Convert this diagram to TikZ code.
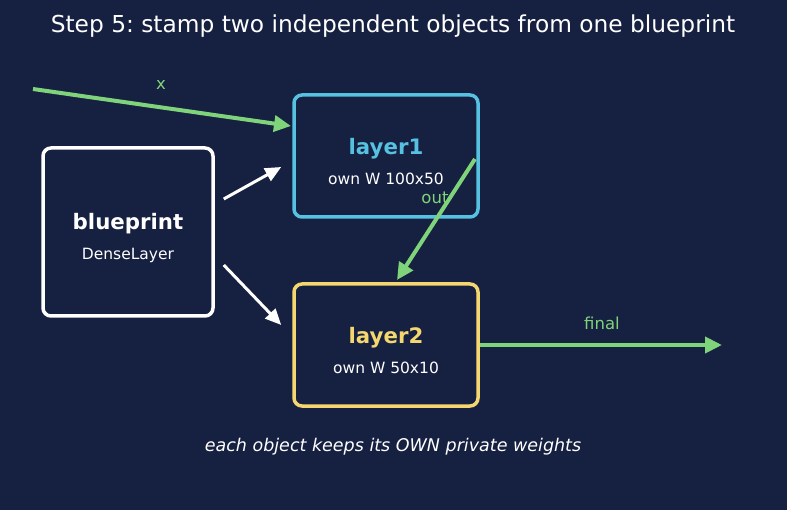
\documentclass[tikz,border=0pt]{standalone}
\usepackage{fontspec}
\setmainfont{DejaVu Sans}
\usetikzlibrary{arrows.meta,calc}
\definecolor{bg}{HTML}{162040}
\definecolor{cyanc}{HTML}{56C1E0}
\definecolor{yel}{HTML}{F5D770}
\definecolor{grn}{HTML}{7FD37A}
\frenchspacing
\begin{document}
\begin{tikzpicture}[x=1pt,y=-1pt,
  box/.style={draw, line width=3.5pt, rounded corners=8pt, fill=bg, inner sep=0pt},
  gline/.style={draw=grn, line width=4pt, -{Triangle[length=17pt,width=16pt]}},
  wline/.style={draw=white, line width=3pt, -{Triangle[length=16pt,width=14pt]}},
  lbl/.style={text=grn, font=\fontsize{16.5}{19}\selectfont}]
\fill[bg] (0,0) rectangle (787,510);
\useasboundingbox (0,0) rectangle (787,510);
\node[text=white, font=\fontsize{23.3}{27}\selectfont] (title) at (393,26) {Step 5: stamp two independent objects from one blueprint};
\node[box, draw=white, minimum width=170pt, minimum height=168pt] (bp) at (128,232) {};
\node[text=white, font=\bfseries\fontsize{21.3}{25}\selectfont] (bpt) at (128,224) {blueprint};
\node[text=white, font=\fontsize{15.5}{18}\selectfont] (bps) at (128,255) {DenseLayer};
\node[box, draw=cyanc, minimum width=184pt, minimum height=122pt] (l1) at (386,156) {};
\node[text=cyanc, font=\bfseries\fontsize{21.3}{25}\selectfont] (l1t) at (386,149) {layer1};
\node[text=white, font=\fontsize{15.5}{18}\selectfont] (l1s) at (386,179) {own W 100x50};
\node[box, draw=yel, minimum width=184pt, minimum height=122pt] (l2) at (386,345) {};
\node[text=yel, font=\bfseries\fontsize{21.3}{25}\selectfont] (l2t) at (386,338) {layer2};
\node[text=white, font=\fontsize{15.5}{18}\selectfont] (l2s) at (386,368) {own W 50x10};
\coordinate (xs) at (33,89);
\coordinate (xe) at (291,126);
\coordinate (fe) at (722,345);
\coordinate (oe) at (397,280);
\coordinate (os) at (475,159);
\draw[gline] (xs) -- (xe);
\node[lbl] (xl) at (161,85) {x};
\draw[wline] ($(bp.east)+(9,-33)$) -- ($(l1.west)+(-11,11)$);
\draw[wline] ($(bp.east)+(9,33)$) -- ($(l2.west)+(-11,-20)$);
\draw[gline] (os) -- (oe);
\node[lbl] (ol) at (435,198) {out};
\draw[gline] (l2.east) -- (fe);
\node[lbl] (fl) at (602,323) {final};
\node[text=white, font=\itshape\fontsize{17.5}{21}\selectfont] (foot) at (393,447) {each object keeps its OWN private weights};
\end{tikzpicture}
\end{document}
